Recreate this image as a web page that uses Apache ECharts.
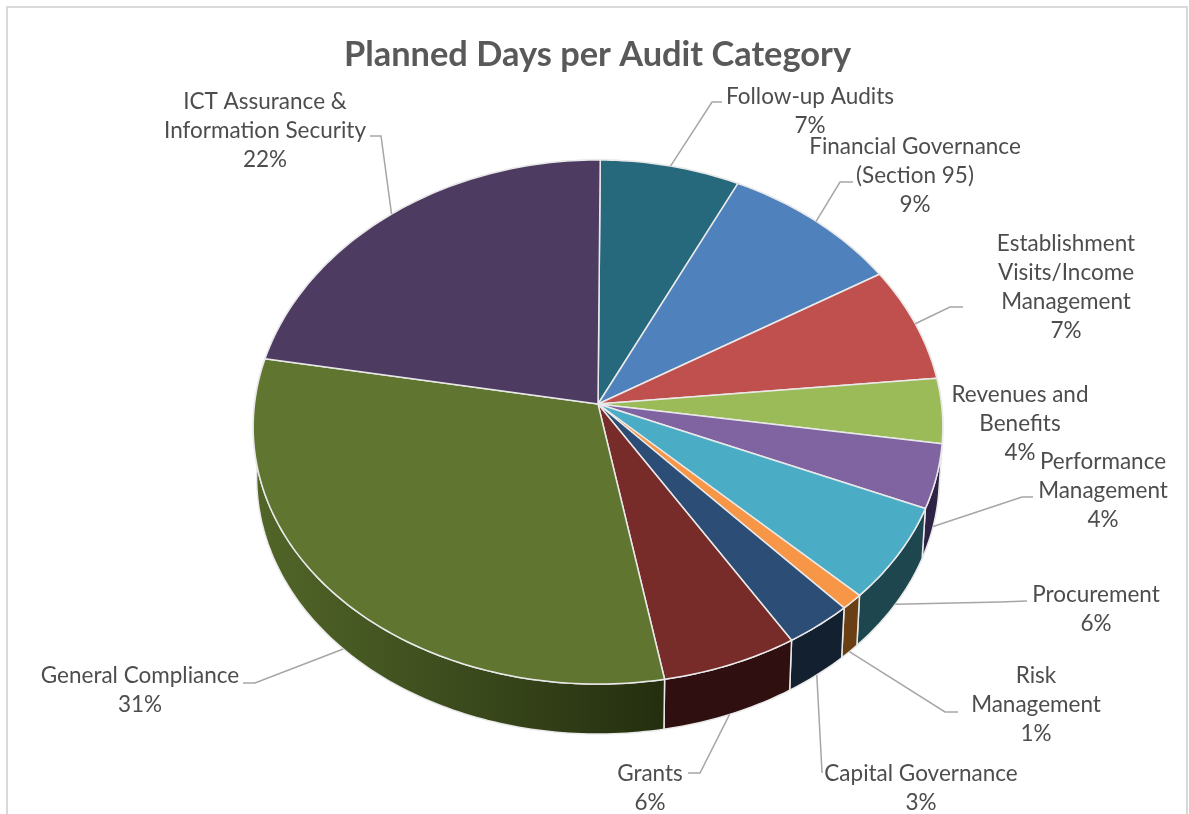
<!DOCTYPE html>
<html>
<head>
<meta charset="utf-8">
<title>Planned Days per Audit Category</title>
<script src="https://cdn.jsdelivr.net/npm/echarts@6/dist/echarts.min.js"></script>
<style>
  html, body { margin: 0; padding: 0; background: #fff; }
  #chart { width: 1189px; height: 814px; }
</style>
</head>
<body>
<div id="chart"></div>
<script>
// Share of planned audit days, clockwise from twelve o'clock.
const categories = [
  'Follow-up Audits',
  'Financial Governance\n(Section 95)',
  'Establishment\nVisits/Income\nManagement',
  'Revenues and\nBenefits',
  'Performance\nManagement',
  'Procurement',
  'Risk\nManagement',
  'Capital Governance',
  'Grants',
  'General Compliance',
  'ICT Assurance &\nInformation Security'
];
const percentages = [7, 9, 7, 4, 4, 6, 1, 3, 6, 31, 22];

// Slice face colours and the darker shades of their side walls.
const faceColors = ['#26697c', '#4f81bd', '#c0504d', '#9bbb59', '#8064a2', '#4bacc6',
                    '#f79646', '#2c4d75', '#772c2a', '#5f7530', '#4d3b62'];
const wallColors = ['#14343e', '#28405e', '#602826', '#4d5d2c', '#2e2245', '#1d464f',
                    '#6b3f14', '#12202f', '#2f0f0f', null, '#261d31'];
const compliantWallStops = ['#526628', '#3e4e1e', '#242e0f'];

// Label centres and the leader-line bends that lead to each of them.
const labelCentres = [[810, 111], [915, 175.5], [1066, 287], [1020, 424], [1103, 491],
                      [1096, 609], [1036, 704.5], [921, 788], [650, 788], [140, 690.5], [265, 131]];
const leaderBends = [
  [[712, 102], [722, 102]],
  [[840, 182], [853, 182]],
  [[950, 307], [963, 307]],
  null,
  [[1022, 497], [1033, 497]],
  [[1000, 602], [1027, 601]],
  [[945, 712], [958, 712]],
  [[822, 772], [823, 772]],
  [[700, 773], [688, 773]],
  [[255, 683], [243, 683]],
  [[381, 136], [370, 136]]
];

// Tilted-disc projection: the apex sits above the middle of the ellipse,
// and the rim sags a little towards the left and right extremes.
const apex = { x: 598, y: 404 };
const radius = { x: 344, y: 260.8 };
const tilt = 0.0687;
const sideSag = 5;
const wallDepth = 50;
const wallNarrowing = 0.99;
const startOffset = 0.4;

const total = percentages.reduce((sum, v) => sum + v, 0);

function rimPoint(deg) {
  const a = deg * Math.PI / 180;
  const sx = Math.sin(a), sy = -Math.cos(a);
  const d = 1 - tilt * sy;
  return [apex.x + radius.x * sx / d, apex.y + radius.y * sy / d + sideSag * sx * sx];
}
function lowerPoint(p) {
  return [apex.x + (p[0] - apex.x) * wallNarrowing, p[1] + wallDepth];
}
function sliceAngles(index, value) {
  let before = 0;
  for (let i = 0; i < index; i++) before += percentages[i];
  const from = startOffset + before / total * 360;
  return [from, from + value / total * 360];
}
function arcPoints(from, to) {
  const pts = [];
  const steps = Math.max(2, Math.ceil(to - from));
  for (let i = 0; i <= steps; i++) pts.push(rimPoint(from + (to - from) * i / steps));
  return pts;
}

const edgeStyle = { stroke: '#e9e9e9', lineWidth: 1.5, lineJoin: 'round' };
const seriesData = percentages.map(v => [v]);

function renderWall(params, api) {
  const i = params.dataIndex;
  const [from, to] = sliceAngles(i, api.value(0));
  const upper = arcPoints(from, to);
  const lower = upper.map(lowerPoint).reverse();
  const fill = wallColors[i] || new echarts.graphic.LinearGradient(0, 0, 1, 0, [
    { offset: 0, color: compliantWallStops[0] },
    { offset: 0.45, color: compliantWallStops[1] },
    { offset: 1, color: compliantWallStops[2] }
  ]);
  return {
    type: 'polygon',
    shape: { points: upper.concat(lower) },
    style: Object.assign({ fill: fill }, edgeStyle)
  };
}

function renderFace(params, api) {
  const i = params.dataIndex;
  const [from, to] = sliceAngles(i, api.value(0));
  return {
    type: 'polygon',
    shape: { points: [[apex.x, apex.y]].concat(arcPoints(from, to)) },
    style: Object.assign({ fill: faceColors[i] }, edgeStyle)
  };
}

function renderLabel(params, api) {
  const i = params.dataIndex;
  const value = api.value(0);
  const [from, to] = sliceAngles(i, value);
  const mid = (from + to) / 2;
  let start = rimPoint(mid);
  // Leaders on the near half of the pie leave from the wall's lower edge.
  if (Math.cos(mid * Math.PI / 180) < 0) start = lowerPoint(start);
  const children = [];
  if (leaderBends[i]) {
    children.push({
      type: 'polyline',
      shape: { points: [start].concat(leaderBends[i]) },
      style: { stroke: '#a6a6a6', lineWidth: 1.5, fill: 'none' }
    });
  }
  children.push({
    type: 'text',
    x: labelCentres[i][0],
    y: labelCentres[i][1],
    style: {
      text: categories[i] + '\n' + value + '%',
      fontFamily: 'Lato, sans-serif',
      fontSize: 22.5,
      lineHeight: 29,
      fill: '#4d4d4d',
      align: 'center',
      verticalAlign: 'middle'
    }
  });
  return { type: 'group', children: children };
}

const chart = echarts.init(document.getElementById('chart'), null, { renderer: 'canvas' });
chart.setOption({
  animation: false,
  backgroundColor: '#ffffff',
  title: {
    text: 'Planned Days per Audit Category',
    left: 592.5,
    top: 33,
    textAlign: 'center',
    textStyle: { fontFamily: 'Lato, sans-serif', fontSize: 34.4, fontWeight: 'bold', color: '#595959' }
  },
  tooltip: { show: false },
  graphic: [{
    type: 'rect',
    silent: true,
    z: -1,
    shape: { x: 7, y: 7, width: 1180, height: 840 },
    style: { fill: 'none', stroke: '#d9d9d9', lineWidth: 2 }
  }],
  series: [
    { type: 'custom', name: 'Walls', coordinateSystem: 'none', renderItem: renderWall, data: seriesData, z: 2 },
    { type: 'custom', name: 'Faces', coordinateSystem: 'none', renderItem: renderFace, data: seriesData, z: 3 },
    { type: 'custom', name: 'Labels', coordinateSystem: 'none', renderItem: renderLabel, data: seriesData, z: 4 }
  ]
});
</script>
</body>
</html>
